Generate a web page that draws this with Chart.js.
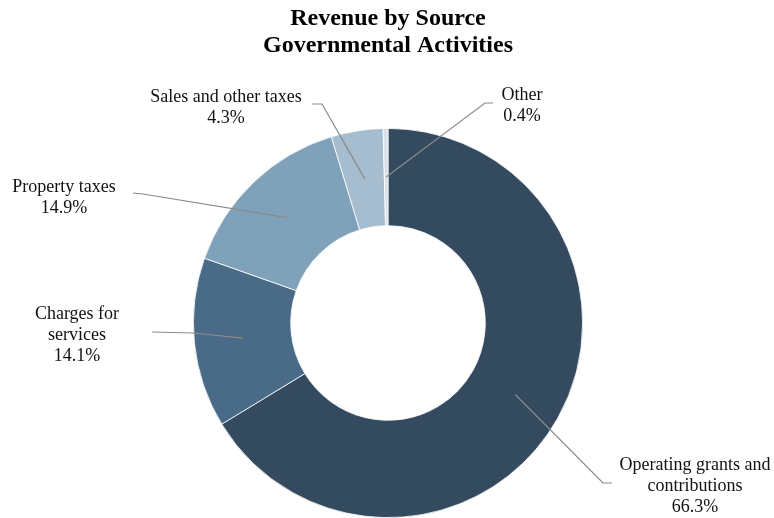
<!DOCTYPE html>
<html>
<head>
<meta charset="utf-8">
<title>Revenue by Source</title>
<script src="https://cdn.jsdelivr.net/npm/chart.js@4"></script>
<style>
  html, body { margin: 0; padding: 0; background: #fff; }
  #wrap { width: 774px; height: 518px; position: relative; }
</style>
</head>
<body>
<div id="wrap"><canvas id="grafico"></canvas></div>
<script>
const categories = ['Operating grants and contributions', 'Charges for services', 'Property taxes', 'Sales and other taxes', 'Other'];
const shares = [66.3, 14.1, 14.9, 4.3, 0.4];
const sliceColors = ['#344b5f', '#4a6b87', '#7fa1b9', '#a5bdcf', '#d8e0e8'];

// where each callout sits: text lines, text centre x, first baseline, and the elbow of its leader line
const callouts = [
    { lines: ['Operating grants and', 'contributions'], x: 695, y: 470, from: [612, 483], elbow: [603, 483] },
    { lines: ['Charges for', 'services'], x: 77, y: 319, from: [152, 332], elbow: [193, 333] },
    { lines: ['Property taxes'], x: 64, y: 192, from: [133, 193], elbow: [143, 194] },
    { lines: ['Sales and other taxes'], x: 226, y: 102, from: [312, 104], elbow: [322, 104] },
    { lines: ['Other'], x: 522, y: 100, from: [493, 103], elbow: [485, 103] }
];

const serif = '"Liberation Serif", "Times New Roman", serif';

const calloutPlugin = {
    id: 'callouts',
    afterDatasetsDraw(chart) {
        const ctx = chart.ctx;
        const arcs = chart.getDatasetMeta(0).data;
        ctx.save();
        arcs.forEach(function (arc, i) {
            const c = callouts[i];
            const p = arc.getCenterPoint();
            ctx.strokeStyle = '#8a8a8a';
            ctx.lineWidth = 1.2;
            ctx.beginPath();
            ctx.moveTo(c.from[0], c.from[1]);
            ctx.lineTo(c.elbow[0], c.elbow[1]);
            ctx.lineTo(p.x, p.y);
            ctx.stroke();

            ctx.fillStyle = '#111';
            ctx.font = '18px ' + serif;
            ctx.textAlign = 'center';
            ctx.textBaseline = 'alphabetic';
            const text = c.lines.concat([shares[i].toFixed(1) + '%']);
            text.forEach(function (t, j) {
                ctx.fillText(t, c.x, c.y + j * 20.8);
            });
        });
        ctx.restore();
    }
};

const ctx = document.getElementById('grafico').getContext('2d');
const grafico = new Chart(ctx, {
    type: 'doughnut',
    data: {
        labels: categories,
        datasets: [{
            data: shares,
            backgroundColor: sliceColors,
            borderColor: '#ffffff',
            borderWidth: 0.8
        }]
    },
    options: {
        responsive: true,
        maintainAspectRatio: false,
        animation: false,
        cutout: '50%',
        layout: { padding: { left: 2, right: 0, top: 0, bottom: 0 } },
        plugins: {
            legend: { display: false },
            tooltip: { enabled: false },
            title: {
                display: true,
                text: ['Revenue by Source', 'Governmental Activities'],
                color: '#000',
                font: { family: serif, size: 24, weight: 'bold', lineHeight: 1.125 },
                padding: { top: 5, bottom: 69 }
            }
        }
    },
    plugins: [calloutPlugin]
});
</script>
</body>
</html>
